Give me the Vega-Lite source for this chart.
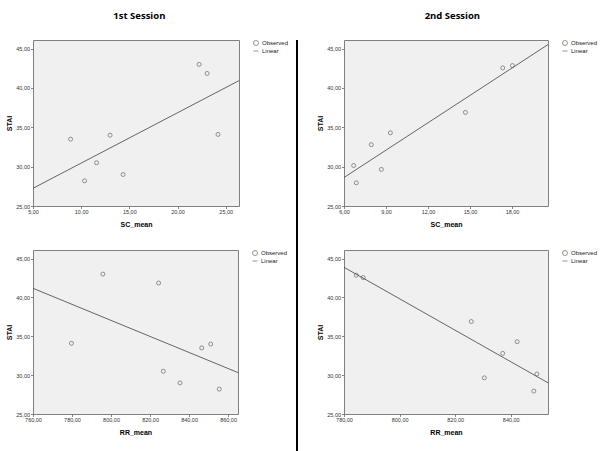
{
  "$schema": "https://vega.github.io/schema/vega-lite/v6.json",
  "padding": {"left": 5, "top": 4, "right": 0, "bottom": 0},
  "background": "white",
  "config": {
    "font": "Liberation Sans",
    "view": {"fill": "#f0f0f0", "stroke": "#808080", "strokeWidth": 1},
    "axis": {"domain": false, "grid": false, "tickColor": "#666666", "tickSize": 2.5, "tickWidth": 0.8, "labelFontSize": 5.5, "labelColor": "#333333", "labelPadding": 1, "labelFlush": false, "labelOverlap": false, "labelBound": false, "titleFontSize": 7, "titleFontWeight": "bold", "titleColor": "#000000"},
    "axisX": {"titlePadding": 5},
    "axisY": {"titlePadding": 3},
    "legend": {"orient": "right", "offset": 14, "padding": 0, "labelFontSize": 6, "labelColor": "#222222", "labelOffset": 3, "symbolSize": 25, "symbolStrokeWidth": 0.8, "symbolStrokeColor": "#444444", "symbolFillColor": "transparent", "rowPadding": -1},
    "title": {"font": "Open Sans", "fontSize": 9.5, "fontWeight": "bold", "color": "#000000", "anchor": "middle", "offset": 19, "lineHeight": 7}
  },
  "datasets": {
    "s1sc": [
      {"SC_mean": 8.9, "STAI": 33.5}, {"SC_mean": 10.35, "STAI": 28.2}, {"SC_mean": 11.6, "STAI": 30.5}, {"SC_mean": 13.0, "STAI": 34.0},
      {"SC_mean": 14.35, "STAI": 29.0}, {"SC_mean": 22.24, "STAI": 43.0}, {"SC_mean": 23.07, "STAI": 41.85}, {"SC_mean": 24.2, "STAI": 34.1}
    ],
    "s1rr": [
      {"RR_mean": 779.7, "STAI": 34.1}, {"RR_mean": 795.8, "STAI": 43.0}, {"RR_mean": 824.4, "STAI": 41.85}, {"RR_mean": 826.8, "STAI": 30.5},
      {"RR_mean": 835.4, "STAI": 29.0}, {"RR_mean": 846.5, "STAI": 33.5}, {"RR_mean": 851.1, "STAI": 34.0}, {"RR_mean": 855.5, "STAI": 28.2}
    ],
    "s2sc": [
      {"SC_mean": 6.69, "STAI": 30.15}, {"SC_mean": 6.88, "STAI": 27.95}, {"SC_mean": 7.95, "STAI": 32.8}, {"SC_mean": 8.67, "STAI": 29.65},
      {"SC_mean": 9.31, "STAI": 34.3}, {"SC_mean": 14.67, "STAI": 36.9}, {"SC_mean": 17.34, "STAI": 42.55}, {"SC_mean": 18.03, "STAI": 42.85}
    ],
    "s2rr": [
      {"RR_mean": 784.4, "STAI": 42.85}, {"RR_mean": 786.9, "STAI": 42.55}, {"RR_mean": 825.8, "STAI": 36.9}, {"RR_mean": 830.5, "STAI": 29.65},
      {"RR_mean": 837.1, "STAI": 32.8}, {"RR_mean": 842.3, "STAI": 34.3}, {"RR_mean": 848.3, "STAI": 27.95}, {"RR_mean": 849.4, "STAI": 30.15}
    ]
  },
  "resolve": {"scale": {"x": "independent", "y": "independent", "shape": "independent"}, "legend": {"shape": "independent"}},
  "spacing": 18,
  "hconcat": [
    {
      "spacing": 6,
      "resolve": {"scale": {"x": "independent", "y": "independent", "shape": "independent"}, "legend": {"shape": "independent"}},
      "hconcat": [
        {
          "title": {"text": ["", "1st Session"], "dx": -8},
          "spacing": 21,
          "resolve": {"scale": {"x": "independent", "y": "independent", "shape": "independent"}, "legend": {"shape": "independent"}},
          "vconcat": [
            {
              "width": 206, "height": 166,
              "data": {"name": "s1sc"},
              "layer": [
                {
                  "mark": {"type": "point", "shape": "circle", "filled": false, "size": 16, "stroke": "#444444", "strokeWidth": 0.8},
                  "encoding": {
                    "x": {"field": "SC_mean", "type": "quantitative", "scale": {"domain": [5, 26.38], "nice": false, "zero": false}, "axis": {"title": "SC_mean", "values": [5, 10, 15, 20, 25], "labelExpr": "replace(format(datum.value, '.2f'), '.', ',')"}},
                    "y": {"field": "STAI", "type": "quantitative", "scale": {"domain": [25, 46.1], "nice": false, "zero": false}, "axis": {"title": "STAI", "values": [25, 30, 35, 40, 45], "labelExpr": "replace(format(datum.value, '.2f'), '.', ',')"}},
                    "shape": {"datum": "Observed", "type": "nominal", "scale": {"domain": ["Observed", "Linear"], "range": ["circle", "stroke"]}, "legend": {"title": null}}
                  }
                },
                {
                  "transform": [{"regression": "STAI", "on": "SC_mean", "extent": [5, 26.38]}],
                  "mark": {"type": "line", "stroke": "#555555", "strokeWidth": 0.9},
                  "encoding": {"x": {"field": "SC_mean", "type": "quantitative"}, "y": {"field": "STAI", "type": "quantitative"}}
                }
              ]
            },
            {
              "width": 205, "height": 164,
              "data": {"name": "s1rr"},
              "layer": [
                {
                  "mark": {"type": "point", "shape": "circle", "filled": false, "size": 16, "stroke": "#444444", "strokeWidth": 0.8},
                  "encoding": {
                    "x": {"field": "RR_mean", "type": "quantitative", "scale": {"domain": [760, 865.1], "nice": false, "zero": false}, "axis": {"title": "RR_mean", "values": [760, 780, 800, 820, 840, 860], "labelExpr": "replace(format(datum.value, '.2f'), '.', ',')"}},
                    "y": {"field": "STAI", "type": "quantitative", "scale": {"domain": [25, 46.1], "nice": false, "zero": false}, "axis": {"title": "STAI", "values": [25, 30, 35, 40, 45], "labelExpr": "replace(format(datum.value, '.2f'), '.', ',')"}},
                    "shape": {"datum": "Observed", "type": "nominal", "scale": {"domain": ["Observed", "Linear"], "range": ["circle", "stroke"]}, "legend": {"title": null}}
                  }
                },
                {
                  "transform": [{"regression": "STAI", "on": "RR_mean", "extent": [760, 865.1]}],
                  "mark": {"type": "line", "stroke": "#555555", "strokeWidth": 0.9},
                  "encoding": {"x": {"field": "RR_mean", "type": "quantitative"}, "y": {"field": "STAI", "type": "quantitative"}}
                }
              ]
            }
          ]
        },
        {
          "width": 2, "height": 443,
          "view": {"fill": "#000000", "stroke": null},
          "data": {"values": [{}]},
          "mark": {"type": "rect", "color": "#000000"},
          "encoding": {}
        }
      ]
    },
    {
      "title": {"text": ["", "2nd Session"], "dx": -5},
      "spacing": 21,
      "resolve": {"scale": {"x": "independent", "y": "independent", "shape": "independent"}, "legend": {"shape": "independent"}},
      "vconcat": [
        {
          "width": 204, "height": 166,
          "data": {"name": "s2sc"},
          "layer": [
            {
              "mark": {"type": "point", "shape": "circle", "filled": false, "size": 16, "stroke": "#444444", "strokeWidth": 0.8},
              "encoding": {
                "x": {"field": "SC_mean", "type": "quantitative", "scale": {"domain": [6, 20.57], "nice": false, "zero": false}, "axis": {"title": "SC_mean", "values": [6, 9, 12, 15, 18], "labelExpr": "replace(format(datum.value, '.2f'), '.', ',')"}},
                "y": {"field": "STAI", "type": "quantitative", "scale": {"domain": [25, 46.1], "nice": false, "zero": false}, "axis": {"title": "STAI", "values": [25, 30, 35, 40, 45], "labelExpr": "replace(format(datum.value, '.2f'), '.', ',')"}},
                "shape": {"datum": "Observed", "type": "nominal", "scale": {"domain": ["Observed", "Linear"], "range": ["circle", "stroke"]}, "legend": {"title": null}}
              }
            },
            {
              "transform": [{"regression": "STAI", "on": "SC_mean", "extent": [6, 20.57]}],
              "mark": {"type": "line", "stroke": "#555555", "strokeWidth": 0.9},
              "encoding": {"x": {"field": "SC_mean", "type": "quantitative"}, "y": {"field": "STAI", "type": "quantitative"}}
            }
          ]
        },
        {
          "width": 204, "height": 164,
          "data": {"name": "s2rr"},
          "layer": [
            {
              "mark": {"type": "point", "shape": "circle", "filled": false, "size": 16, "stroke": "#444444", "strokeWidth": 0.8},
              "encoding": {
                "x": {"field": "RR_mean", "type": "quantitative", "scale": {"domain": [780, 853.4], "nice": false, "zero": false}, "axis": {"title": "RR_mean", "values": [780, 800, 820, 840], "labelExpr": "replace(format(datum.value, '.2f'), '.', ',')"}},
                "y": {"field": "STAI", "type": "quantitative", "scale": {"domain": [25, 46.1], "nice": false, "zero": false}, "axis": {"title": "STAI", "values": [25, 30, 35, 40, 45], "labelExpr": "replace(format(datum.value, '.2f'), '.', ',')"}},
                "shape": {"datum": "Observed", "type": "nominal", "scale": {"domain": ["Observed", "Linear"], "range": ["circle", "stroke"]}, "legend": {"title": null}}
              }
            },
            {
              "transform": [{"regression": "STAI", "on": "RR_mean", "extent": [780, 853.4]}],
              "mark": {"type": "line", "stroke": "#555555", "strokeWidth": 0.9},
              "encoding": {"x": {"field": "RR_mean", "type": "quantitative"}, "y": {"field": "STAI", "type": "quantitative"}}
            }
          ]
        }
      ]
    }
  ]
}
